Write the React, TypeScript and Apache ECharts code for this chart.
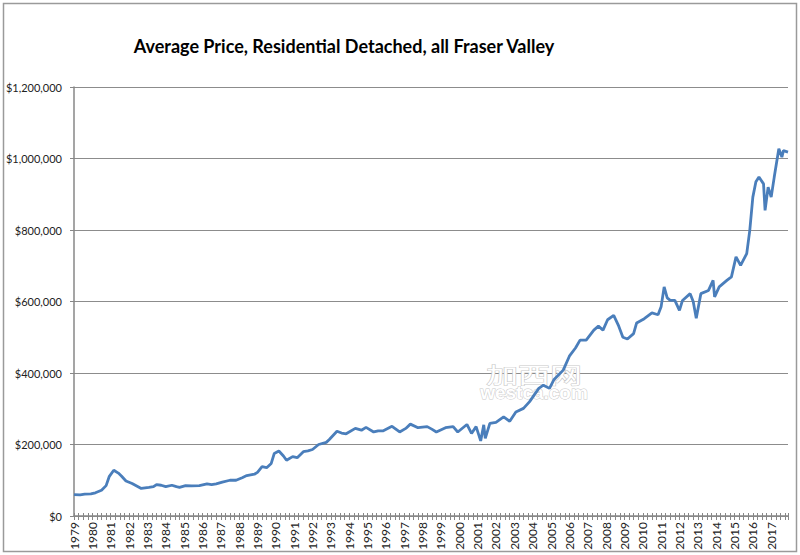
import React, { useEffect, useRef } from "react";
import * as echarts from "echarts";

const TITLE = "Average Price, Residential Detached, all Fraser Valley";

// Month of each reading (YYYY-MM)
const dates: string[] = [
  "1979-01","1979-05","1979-08","1979-12","1980-03","1980-07","1980-10","1980-12",
  "1981-03","1981-06","1981-08","1981-11","1982-03","1982-06","1982-09","1983-02",
  "1983-05","1983-07","1983-10","1984-01","1984-05","1984-08","1984-10","1985-02",
  "1985-06","1985-11","1986-04","1986-07","1986-10","1987-02","1987-07","1987-11",
  "1988-03","1988-06","1988-11","1989-01","1989-04","1989-07","1989-10","1989-12",
  "1990-03","1990-06","1990-08","1990-12","1991-03","1991-07","1991-10","1992-01",
  "1992-05","1992-10","1992-12","1993-05","1993-08","1993-11","1994-05","1994-09",
  "1994-12","1995-05","1995-08","1995-11","1996-05","1996-10","1997-02","1997-05",
  "1997-10","1998-04","1998-07","1998-10","1999-04","1999-09","1999-12","2000-06",
  "2000-09","2000-12","2001-03","2001-05","2001-06","2001-09","2002-01","2002-06",
  "2002-10","2003-02","2003-07","2003-11","2004-05","2004-08","2004-12","2005-03",
  "2005-09","2006-01","2006-05","2006-08","2006-12","2007-05","2007-08","2007-11",
  "2008-02","2008-06","2008-09","2008-12","2009-03","2009-07","2009-09","2010-02",
  "2010-07","2010-11","2011-01","2011-03","2011-05","2011-07","2011-10","2012-01",
  "2012-03","2012-08","2012-10","2012-12","2013-03","2013-08","2013-11","2013-12",
  "2014-03","2014-08","2014-11","2015-02","2015-05","2015-09","2015-11","2016-01",
  "2016-03","2016-05","2016-08","2016-09","2016-11","2017-01","2017-03","2017-06",
  "2017-08","2017-09","2017-12",
];

// Average price in thousands of dollars
const pricesK: number[] = [
  60,59,61,62,65,72,85,110,
  128,120,112,98,91,84,77,80,
  82,88,86,82,86,82,80,85,
  84,85,90,88,90,95,100,100,
  107,113,117,122,138,135,147,175,
  182,168,156,166,163,180,182,186,
  200,206,214,237,232,230,245,240,
  248,235,238,238,251,235,245,257,
  247,250,243,235,247,250,235,256,
  231,250,210,255,217,259,262,277,
  265,291,301,320,357,366,357,382,
  408,447,470,492,492,520,531,520,
  549,561,534,500,495,510,540,552,
  568,563,585,641,610,603,603,575,
  603,622,600,553,622,631,659,613,
  641,659,669,725,701,734,799,892,
  935,948,929,855,920,892,948,1027,
  1004,1022,1018,
];

const yTicks: number[] = [0, 200000, 400000, 600000, 800000, 1000000, 1200000];
const firstYear = 1979;
const lastYear = 2017;

const toYear = (d: string) => {
  const [y, m] = d.split("-").map(Number);
  return y + (m - 1) / 12;
};

const fmtMoney = (v: number) => "$" + Math.round(v).toLocaleString("en-US");

export default function App() {
  const ref = useRef<HTMLDivElement>(null);
  useEffect(() => {
    document.body.style.margin = "0";
    if (!ref.current) return;
    const chart = echarts.init(ref.current, undefined, { renderer: "svg" });
    const grey = "#878787";
    const labelFont = "Lato, 'Liberation Sans', sans-serif";
    const data = dates.map((d, i) => [toYear(d), pricesK[i] * 1000]);
    chart.setOption({
      animation: false,
      backgroundColor: "#ffffff",
      grid: { left: 74, right: 12, top: 87, bottom: 39, containLabel: false },
      xAxis: [
        {
          type: "value",
          min: firstYear,
          max: lastYear + 11 / 12,
          interval: 1,
          axisLine: { show: true, lineStyle: { color: grey, width: 1.5 } },
          axisTick: { show: true, length: 4, inside: false, lineStyle: { color: grey } },
          minorTick: { show: true, splitNumber: 4, length: 4, lineStyle: { color: grey } },
          splitLine: { show: false },
          axisLabel: {
            rotate: 90,
            margin: 6,
            showMaxLabel: false,
            fontFamily: labelFont,
            fontSize: 12,
            color: "#222",
            formatter: (v: number) => String(Math.round(v)),
          },
        },
        {
          type: "value",
          position: "bottom",
          min: firstYear,
          max: lastYear + 11 / 12,
          interval: 1,
          axisLine: { show: false },
          axisTick: { show: true, length: 3, inside: true, lineStyle: { color: grey } },
          minorTick: { show: true, splitNumber: 4, length: 3, lineStyle: { color: grey } },
          splitLine: { show: false },
          axisLabel: { show: false },
        },
      ],
      yAxis: {
        type: "value",
        min: yTicks[0],
        max: yTicks[yTicks.length - 1],
        interval: 200000,
        axisLine: { show: true, lineStyle: { color: grey, width: 1.5 } },
        axisTick: { show: true, length: 4, lineStyle: { color: grey } },
        splitLine: { show: true, lineStyle: { color: "#8c8c8c", width: 1 } },
        axisLabel: {
          margin: 12,
          fontFamily: labelFont,
          fontSize: 11,
          color: "#222",
          formatter: (v: number) => fmtMoney(v),
        },
      },
      series: [
        {
          type: "line",
          data,
          showSymbol: false,
          symbol: "none",
          lineStyle: { color: "#4a7ebb", width: 2.8 },
          z: 5,
        },
      ],
      graphic: [
        {
          type: "rect",
          shape: { x: 3.5, y: 3.5, width: 793, height: 548 },
          style: { fill: "none", stroke: "#9a9a9a", lineWidth: 1.5 },
          silent: true,
        },
        {
          type: "text",
          x: 344,
          y: 46,
          style: {
            text: TITLE,
            fontFamily: "Lato, 'Liberation Sans', sans-serif",
            fontWeight: "bold",
            fontSize: 18,
            fill: "#000",
            textAlign: "center",
            textVerticalAlign: "middle",
          },
        },
        {
          type: "text",
          x: 534,
          y: 373,
          scaleX: 1.45,
          z: 1,
          style: {
            text: "加西网",
            fontFamily: "'Noto Sans CJK SC', sans-serif",
            fontSize: 22,
            fill: "#ffffff",
            stroke: "#c8c8c8",
            lineWidth: 1,
            textAlign: "center",
            textVerticalAlign: "middle",
          },
        },
        {
          type: "text",
          x: 534,
          y: 392,
          z: 1,
          style: {
            text: "westca.com",
            fontFamily: "'Liberation Sans', sans-serif",
            fontWeight: "bold",
            fontSize: 19,
            fill: "#ffffff",
            stroke: "#c8c8c8",
            lineWidth: 1,
            textAlign: "center",
            textVerticalAlign: "middle",
          },
        },
      ],
    });
    return () => chart.dispose();
  }, []);
  return <div ref={ref} style={{ width: 800, height: 555 }} />;
}
